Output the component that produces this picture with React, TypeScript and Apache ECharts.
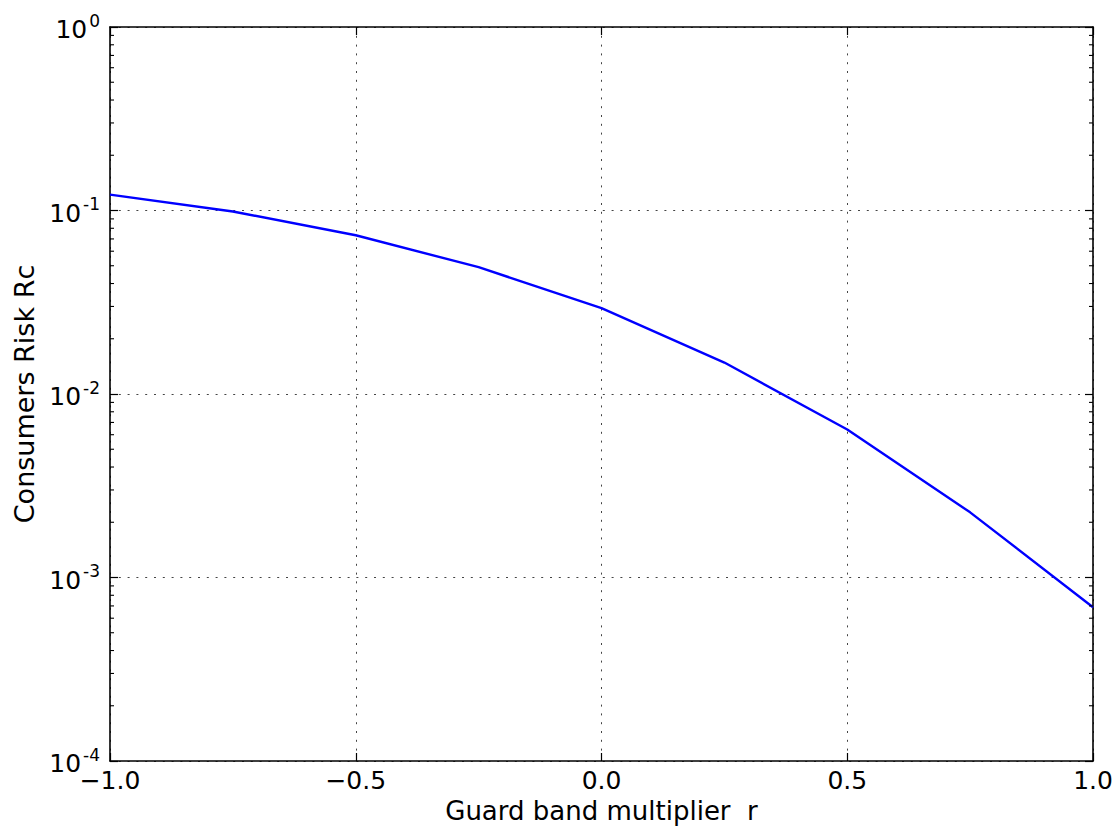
import React, { useEffect, useRef } from "react";
import * as echarts from "echarts";

const rValues = [-1, -0.75, -0.5, -0.25, 0, 0.25, 0.5, 0.75, 1];
const riskValues = [0.122, 0.0988, 0.0733, 0.0491, 0.0294, 0.01484, 0.00641, 0.002265, 0.000689];
const xTicks = [-1, -0.5, 0, 0.5, 1];
const yDecades = [-4, -3, -2, -1, 0];
const xLabel = "Guard band multiplier  r";
const yLabel = "Consumers Risk Rc";

const FONT = "DejaVu Sans";

export default function App() {
  const ref = useRef<HTMLDivElement>(null);
  useEffect(() => {
    if (!ref.current) return;
    const chart = echarts.init(ref.current, undefined, { renderer: "svg" });

    const minorVals: number[] = [];
    for (let k = yDecades[0]; k < yDecades[yDecades.length - 1]; k++) {
      for (let m = 2; m <= 9; m++) minorVals.push(m * Math.pow(10, k));
    }
    const xMin = xTicks[0];
    const xMax = xTicks[xTicks.length - 1];
    const yMin = Math.pow(10, yDecades[0]);
    const yMax = Math.pow(10, yDecades[yDecades.length - 1]);

    const expFmt = (v: number) => {
      const e = Math.round(Math.log10(v));
      return "{b|10}{s|" + e + "}";
    };

    const dotted = { color: "#444", width: 1, type: [2, 6.8] as any };

    chart.setOption({
      animation: false,
      grid: { left: 110, right: 25, top: 27, bottom: 67, show: false },
      xAxis: [
        {
          type: "value",
          min: xMin,
          max: xMax,
          interval: 0.5,
          position: "bottom",
          axisLine: { show: true, onZero: false, lineStyle: { color: "#000", width: 1.6 } },
          axisTick: { show: true, inside: true, length: 8, lineStyle: { color: "#000", width: 1.2 } },
          axisLabel: {
            show: true,
            margin: 7,
            fontFamily: FONT,
            fontSize: 25,
            color: "#000",
            formatter: (v: number) => (v < 0 ? "\u2212" : "") + Math.abs(v).toFixed(1),
          },
          splitLine: { show: true, lineStyle: dotted },
          name: xLabel,
          nameLocation: "middle",
          nameGap: 37,
          nameTextStyle: { fontFamily: FONT, fontSize: 26, color: "#000" },
        },
        {
          type: "value",
          min: xMin,
          max: xMax,
          interval: 0.5,
          position: "top",
          axisLine: { show: true, onZero: false, lineStyle: { color: "#000", width: 1.6 } },
          axisTick: { show: true, inside: true, length: 8, lineStyle: { color: "#000", width: 1.2 } },
          axisLabel: { show: false },
          splitLine: { show: false },
        },
      ],
      yAxis: [
        {
          type: "log",
          logBase: 10,
          min: yMin,
          max: yMax,
          position: "left",
          axisLine: { show: true, onZero: false, lineStyle: { color: "#000", width: 1.6 } },
          axisTick: { show: true, inside: true, length: 8, lineStyle: { color: "#000", width: 1.2 } },
          axisLabel: {
            show: true,
            margin: 10,
            formatter: expFmt,
            rich: {
              b: { fontFamily: FONT, fontSize: 25, color: "#000", verticalAlign: "bottom", lineHeight: 30 },
              s: { fontFamily: FONT, fontSize: 17, color: "#000", verticalAlign: "top", lineHeight: 20, padding: [0, 0, 0, 2] },
            },
          },
          splitLine: { show: true, lineStyle: dotted },
          name: yLabel,
          nameLocation: "middle",
          nameGap: 72,
          nameTextStyle: { fontFamily: FONT, fontSize: 27, color: "#000" },
        },
        {
          type: "log",
          logBase: 10,
          min: yMin,
          max: yMax,
          position: "right",
          axisLine: { show: true, onZero: false, lineStyle: { color: "#000", width: 1.6 } },
          axisTick: { show: true, inside: true, length: 8, lineStyle: { color: "#000", width: 1.2 } },
          axisLabel: { show: false },
          splitLine: { show: false },
        },
      ],
      series: [
        {
          type: "custom",
          xAxisIndex: 0,
          yAxisIndex: 0,
          silent: true,
          clip: false,
          z: 5,
          data: minorVals.map((v) => [xMin, v]),
          encode: { x: 0, y: 1 },
          renderItem: (params: any, api: any) => {
            const v = api.value(1);
            const pl = api.coord([xMin, v]);
            const pr = api.coord([xMax, v]);
            const st = { stroke: "#000", lineWidth: 1.1 };
            return {
              type: "group",
              children: [
                { type: "line", shape: { x1: pl[0], y1: pl[1], x2: pl[0] + 4, y2: pl[1] }, style: st },
                { type: "line", shape: { x1: pr[0], y1: pr[1], x2: pr[0] - 4, y2: pr[1] }, style: st },
              ],
            };
          },
        },
        {
          type: "line",
          xAxisIndex: 0,
          yAxisIndex: 0,
          data: rValues.map((r, i) => [r, riskValues[i]]),
          showSymbol: false,
          symbol: "none",
          lineStyle: { color: "#0000ff", width: 2.4 },
          z: 4,
        },
      ],
    });
    return () => chart.dispose();
  }, []);
  return (
    <div
      ref={ref}
      style={{ position: "absolute", left: 0, top: 0, width: 1118, height: 829, background: "#fff" }}
    />
  );
}
